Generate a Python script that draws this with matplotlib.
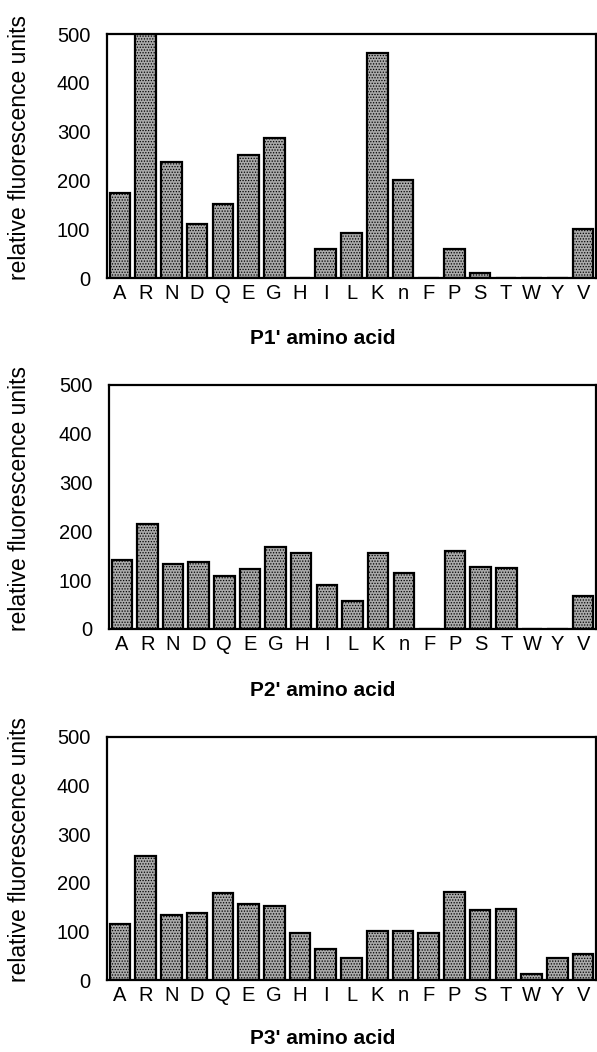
import matplotlib
matplotlib.use('Agg')
import matplotlib.pyplot as plt

plt.rcParams['font.family'] = ['Liberation Sans', 'DejaVu Sans']
plt.rcParams['hatch.linewidth'] = 0.6

amino_acids = ['A', 'R', 'N', 'D', 'Q', 'E', 'G', 'H', 'I', 'L',
               'K', 'n', 'F', 'P', 'S', 'T', 'W', 'Y', 'V']

p1_values = [175, 520, 238, 110, 151, 253, 286, 0, 59, 92,
             462, 201, 0, 59, 11, 0, 0, 0, 100]
p2_values = [141, 215, 133, 137, 109, 123, 169, 156, 90, 58,
             156, 114, 0, 160, 128, 124, 0, 0, 68]
p3_values = [115, 255, 134, 138, 180, 156, 152, 96, 64, 46,
             101, 101, 97, 181, 144, 147, 12, 45, 53]

titles = ["P1' amino acid", "P2' amino acid", "P3' amino acid"]
y_ticks = [0, 100, 200, 300, 400, 500]

W, H = 597, 1052
fig = plt.figure(figsize=(W / 100, H / 100), dpi=100)

# axes boxes in pixels: left, top, right, bottom
boxes = [(107, 34, 596, 278), (109, 385, 596, 629), (107, 737, 596, 980)]
label_y = [338, 690, 1038]

for values, title, box, ly in zip([p1_values, p2_values, p3_values], titles, boxes, label_y):
    l, t, r, b = box
    ax = fig.add_axes([l / W, 1 - b / H, (r - l) / W, (b - t) / H])
    ax.bar(range(len(amino_acids)), values, width=0.8, color='#aaaaaa',
           edgecolor='black', linewidth=1.6, hatch='......')
    ax.set_xlim(-0.5, len(amino_acids) - 0.5)
    ax.set_ylim(0, 500)
    ax.set_yticks(y_ticks)
    ax.set_xticks(range(len(amino_acids)))
    ax.set_xticklabels(amino_acids)
    ax.tick_params(axis='both', length=0, labelsize=14.5)
    ax.tick_params(axis='y', pad=12)
    ax.tick_params(axis='x', pad=4)
    for s in ax.spines.values():
        s.set_linewidth(1.6)
    ax.set_ylabel('relative fluorescence units', fontsize=16.5)
    ax.yaxis.set_label_coords((31 - l) / (r - l), 0.535)
    fig.text(323 / W, 1 - ly / H, title, ha='center', va='center',
             fontsize=15, fontweight='bold')

fig.savefig('out.png', dpi=100)
